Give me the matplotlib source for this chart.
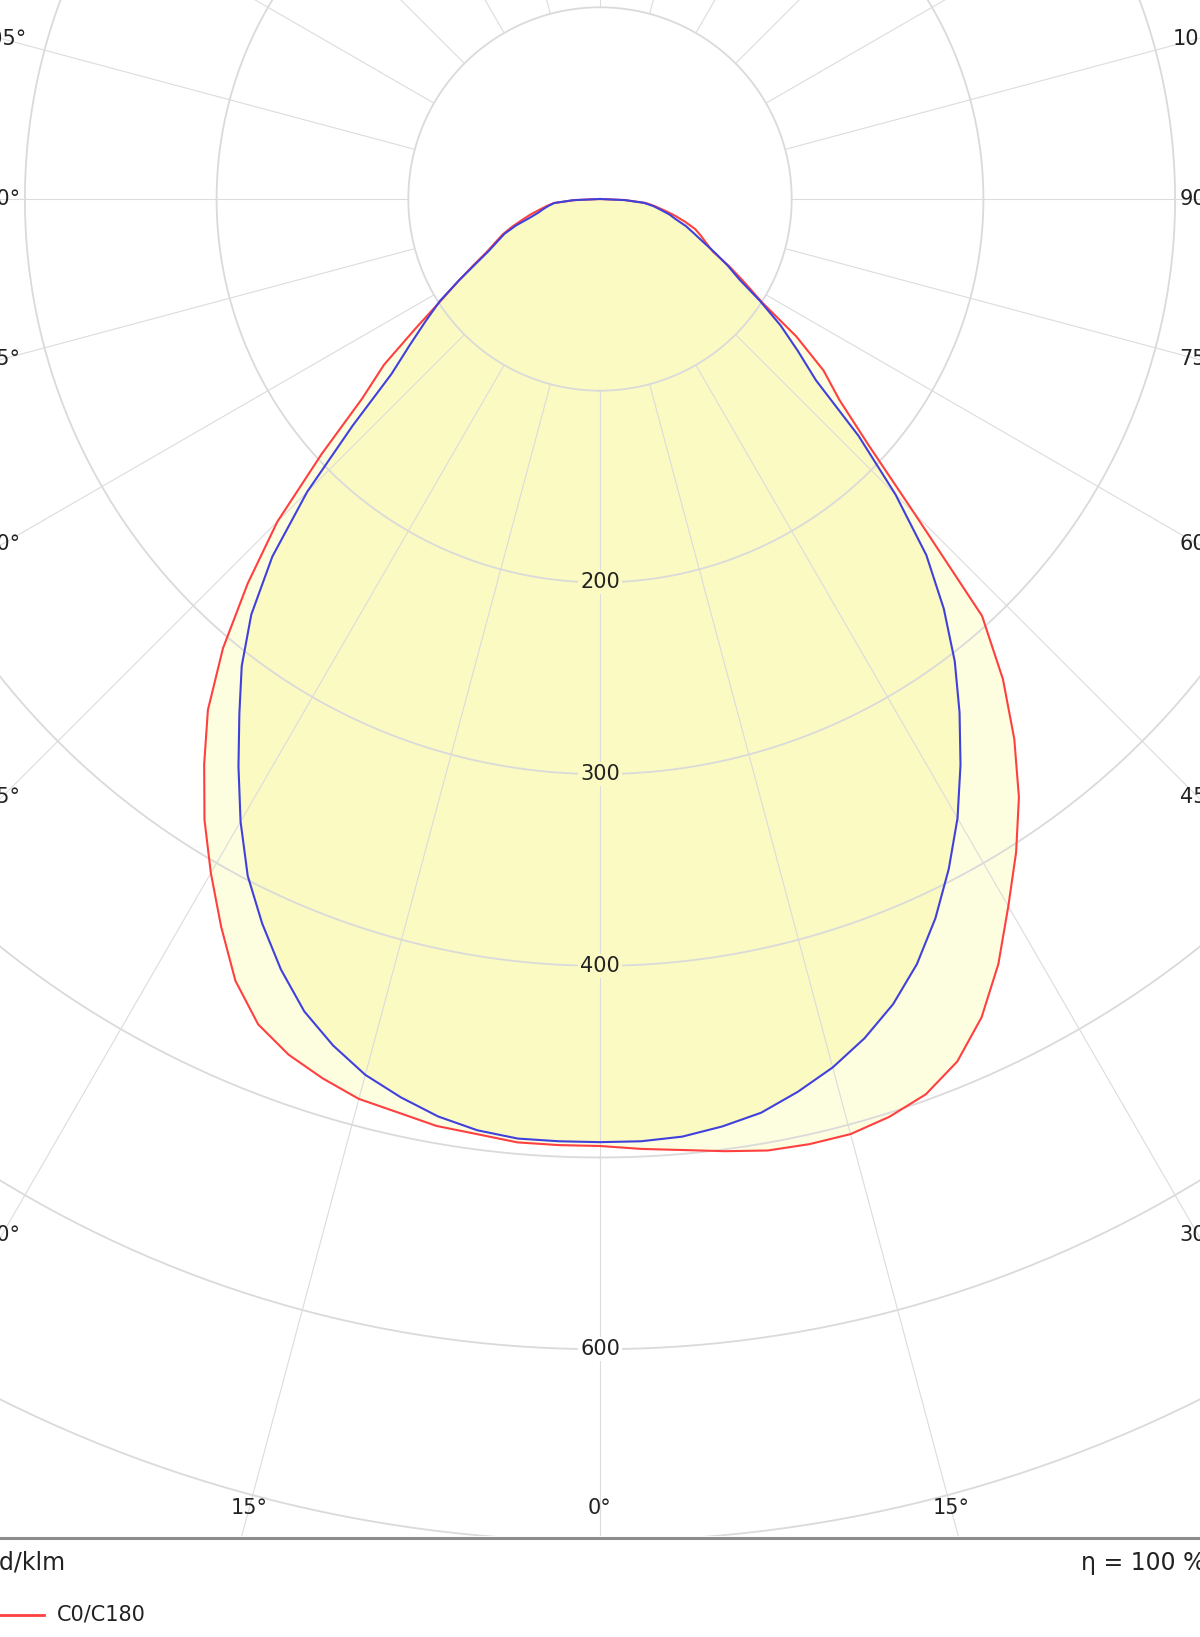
import numpy as np
import matplotlib.pyplot as plt

# luminous intensity in cd/klm, gamma 0..90 deg every 2.5 deg (0 = straight down)
gamma = [0, 2.5, 5, 7.5, 10, 12.5, 15, 17.5, 20, 22.5, 25, 27.5, 30, 32.5, 35, 37.5,
         40, 42.5, 45, 47.5, 50, 52.5, 55, 57.5, 60, 62.5, 65, 67.5, 70, 72.5, 75,
         77.5, 80, 82.5, 85, 87.5, 90]
c0 = [494, 496, 498, 501, 504, 505, 505, 502, 497, 487, 471, 450, 426, 404, 381, 355,
      327, 295, 232, 190, 163, 147, 125, 100, 87, 76, 65, 60, 56, 52, 46,
      40, 34, 29, 24, 13, 0]
c180 = [494, 494, 494, 492, 491, 488, 486, 481, 475, 466, 450, 428, 406, 384, 360, 336,
        306, 272, 238, 197, 162, 142, 117, 98, 85, 74, 65, 59, 54, 48, 42,
        37, 32, 28, 24, 13, 0]
c90 = [492, 492, 491, 488, 484, 477, 469, 459, 447, 432, 414, 394, 373, 350, 327, 304,
       279, 252, 218, 183, 147, 130, 115, 99, 84, 75, 66, 58, 52, 47, 41,
       37, 32, 28, 23, 13, 0]
c270 = [492, 492, 492, 490, 486, 480, 473, 463, 451, 435, 417, 398, 375, 351, 328, 307,
        283, 253, 216, 175, 142, 125, 111, 99, 85, 73, 64, 58, 53, 46, 38,
        33, 30, 27, 24, 14, 0]

rings = [100, 200, 300, 400, 500, 600, 700, 800, 900, 1000]
ring_labels = [200, 300, 400, 600]
angle_labels = list(range(0, 181, 15))

W, H = 1200, 1637
px = 1.917          # pixels per cd/klm
cx, cy = 600, H - 199
R = 1000

fig = plt.figure(figsize=(W / 100, H / 100), dpi=100)
ax = fig.add_axes([(cx - R * px) / W, (cy - R * px) / H, 2 * R * px / W, 2 * R * px / H],
                  projection='polar')
ax.set_theta_zero_location('S')
ax.set_ylim(0, R)
ax.set_xticks([])
ax.set_yticks([])
ax.grid(False)
ax.spines['polar'].set_visible(False)

g = np.radians(gamma)
th = np.concatenate([-g[::-1], g[1:]])
r_red = np.concatenate([np.array(c180)[::-1], c0[1:]])
r_blue = np.concatenate([np.array(c270)[::-1], c90[1:]])

ax.fill(th, r_red, color='#fdfde0', zorder=1)
ax.fill(th, r_blue, color='#fbfac3', zorder=1.5)

# grid
t = np.linspace(0, 2 * np.pi, 721)
for rv in rings:
    ax.plot(t, np.full_like(t, rv), color='#dadada', lw=1.3, zorder=2)
for a in range(0, 360, 15):
    ax.plot([np.radians(a)] * 2, [100, R], color='#dcdcdc', lw=0.8, zorder=2)

for rv in ring_labels:
    bg = '#fbfac3' if rv < c90[0] else 'white'
    ax.text(0, rv, str(rv), ha='center', va='center', fontsize=15, color='#222222',
            bbox=dict(boxstyle='square,pad=0.1', fc=bg, ec='none'), zorder=3)

# angle labels along the chart frame
half_w, bottom = 312, 683
for a in angle_labels:
    for s in ([1] if a in (0, 180) else [1, -1]):
        ar = np.radians(a)
        if abs(np.tan(ar)) * bottom <= half_w and a < 90:
            rr = bottom / np.cos(ar)
        else:
            rr = half_w / abs(np.sin(ar))
        ax.text(s * ar, rr, f'{a}°', ha='center', va='center', fontsize=15,
                color='#222222', zorder=3, clip_on=False)

ax.plot(th, r_red, color='#ff4040', lw=1.5, zorder=4)
ax.plot(th, r_blue, color='#4040dd', lw=1.5, zorder=4)

# footer
bax = fig.add_axes([0, 0, 1, 101 / H])
bax.set_zorder(5)
bax.set_xlim(0, W)
bax.set_ylim(0, 101)
bax.set_xticks([])
bax.set_yticks([])
for sp in bax.spines.values():
    sp.set_visible(False)
bax.set_facecolor('white')
bax.axhline(99.5, color='#8c8c8c', lw=2.2)
bax.text(-13, 74, 'cd/klm', ha='left', va='center', fontsize=17, color='#222222')
bax.text(1081, 74, 'η = 100 %', ha='left', va='center', fontsize=17, color='#222222')
bax.plot([-5, 44], [22, 22], color='#ff4040', lw=2)
bax.text(57, 22, 'C0/C180', ha='left', va='center', fontsize=15, color='#222222')

fig.savefig('out.png', dpi=100)
